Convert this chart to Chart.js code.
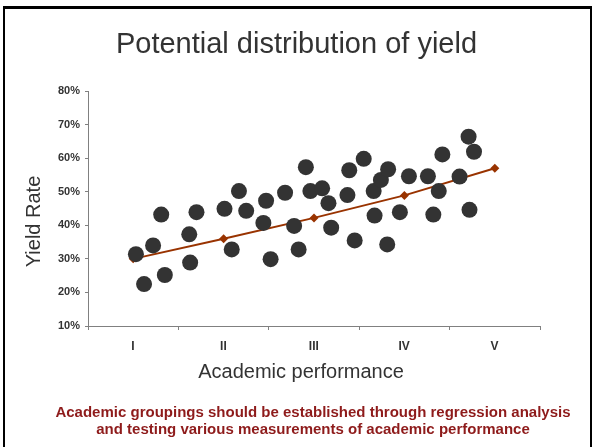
<!DOCTYPE html>
<html>
<head>
<meta charset="utf-8">
<script src="https://cdn.jsdelivr.net/npm/chart.js@4/dist/chart.umd.min.js"></script>
<style>
  body { margin: 0; background: #fff; }
  #wrap { position: relative; width: 593px; height: 447px; overflow: hidden; }
  #frame {
    position: absolute; left: 3px; top: 6px; right: 1px; bottom: -10px;
    border-top: 3px solid #000; border-left: 2px solid #000; border-right: 2px solid #000;
    pointer-events: none;
  }
</style>
</head>
<body>
<div id="wrap">
  <canvas id="yieldChart" width="593" height="447"></canvas>
  <div id="frame"></div>
</div>
<script>
// academic groups on the x axis
const groupLabels = ['I', 'II', 'III', 'IV', 'V'];

// each dot: position along the groups and its yield rate (%)
const studentGroup = [
  1.03, 1.12, 1.22, 1.31, 1.35, 1.62, 1.63, 1.70, 2.01, 2.09,
  2.17, 2.25, 2.44, 2.47, 2.52, 2.68, 2.78, 2.83, 2.91, 2.96,
  3.09, 3.16, 3.19, 3.37, 3.39, 3.45, 3.55, 3.66, 3.67, 3.74,
  3.82, 3.81, 3.95, 4.05, 4.26, 4.32, 4.38, 4.42, 4.61, 4.71,
  4.72, 4.77
];
const studentYield = [
  31.4, 22.5, 34.0, 43.2, 25.2, 37.3, 28.9, 43.9, 44.9, 32.8,
  50.2, 44.3, 40.7, 47.3, 29.9, 49.7, 39.8, 32.8, 57.3, 50.2,
  51.0, 46.6, 39.3, 49.0, 56.4, 35.5, 59.8, 50.2, 42.9, 53.5,
  56.7, 34.3, 43.9, 54.6, 54.6, 43.2, 50.2, 61.1, 54.5, 66.4,
  44.6, 61.9
];

// regression line through the group centres
const trendGroup = [1, 2, 3, 4, 5];
const trendYield = [30, 36, 42.2, 48.9, 57];

const yMin = 10, yMax = 80, yStep = 10;

const footNote = [
  'Academic groupings should be established through regression analysis',
  'and testing various measurements of academic performance'
];

const fontFamily = "'Liberation Sans', Arial, sans-serif";

// axis titles and the footnote, placed off-centre like the original slide
const slideText = {
  id: 'slideText',
  afterDraw(chart) {
    const {ctx, chartArea} = chart;
    const midX = (chartArea.left + chartArea.right) / 2;
    ctx.save();
    ctx.textAlign = 'center';
    ctx.textBaseline = 'middle';

    ctx.fillStyle = '#8E1B1B';
    ctx.font = 'bold 15px ' + fontFamily;
    footNote.forEach((line, i) => {
      ctx.fillText(line, midX - 1, chartArea.bottom + 86.5 + i * 17.5);
    });

    ctx.fillStyle = '#333333';
    ctx.font = '20px ' + fontFamily;
    ctx.fillText('Academic performance', midX - 13, chartArea.bottom + 46.5);
    ctx.translate(chartArea.left - 54, (chartArea.top + chartArea.bottom) / 2 + 13);
    ctx.rotate(-Math.PI / 2);
    ctx.fillText('Yield Rate', 0, 0);
    ctx.restore();
  }
};

const ctx = document.getElementById('yieldChart').getContext('2d');
const chart = new Chart(ctx, {
  type: 'scatter',
  data: {
    datasets: [{
      label: 'Students',
      data: studentGroup.map((g, i) => ({x: g, y: studentYield[i]})),
      pointRadius: 8,
      pointBackgroundColor: '#333333',
      pointBorderWidth: 0,
      showLine: false
    }, {
      type: 'line',
      label: 'Regression',
      data: trendGroup.map((g, i) => ({x: g, y: trendYield[i]})),
      borderColor: '#993300',
      borderWidth: 2,
      pointStyle: 'rectRot',
      pointRadius: 4.5,
      pointBackgroundColor: '#993300',
      pointBorderWidth: 0,
      tension: 0,
      fill: false
    }]
  },
  options: {
    responsive: false,
    animation: false,
    devicePixelRatio: 1,
    layout: { padding: { top: 0, left: 0, right: 0, bottom: 53.25 } },
    scales: {
      x: {
        type: 'linear',
        min: 0.5,
        max: groupLabels.length + 0.5,
        afterBuildTicks: scale => {
          // tick marks sit on the group boundaries
          scale.ticks = groupLabels.map((_, i) => ({value: i + 0.5}))
            .concat([{value: groupLabels.length + 0.5}]);
        },
        afterFit: scale => { scale.height = 67.75; },
        ticks: {
          callback: (value, index) => groupLabels[index] || '',
          labelOffset: 45,
          autoSkip: false,
          maxRotation: 0,
          padding: 9,
          color: '#333333',
          font: { family: fontFamily, size: 12, weight: 'bold' }
        },
        grid: { drawOnChartArea: false, tickLength: 4, color: '#808080' },
        border: { color: '#808080' }
      },
      y: {
        min: yMin,
        max: yMax,
        afterFit: scale => { scale.width = 88; },
        ticks: {
          stepSize: yStep,
          callback: v => v + '%',
          padding: 5,
          color: '#333333',
          font: { family: fontFamily, size: 11, weight: 'bold' }
        },
        grid: { drawOnChartArea: false, tickLength: 3, color: '#808080' },
        border: { color: '#808080' }
      },
      // empty right-hand margin so the title stays centred on the slide
      yRight: {
        position: 'right',
        afterFit: scale => { scale.width = 53; },
        ticks: { display: false },
        grid: { display: false },
        border: { display: false }
      }
    },
    plugins: {
      legend: { display: false },
      tooltip: { enabled: false },
      title: {
        display: true,
        text: 'Potential distribution of yield',
        color: '#333333',
        font: { family: fontFamily, size: 29, weight: 'normal' },
        padding: { top: 28, bottom: 28.2 }
      }
    }
  },
  plugins: [slideText]
});
</script>
</body>
</html>
